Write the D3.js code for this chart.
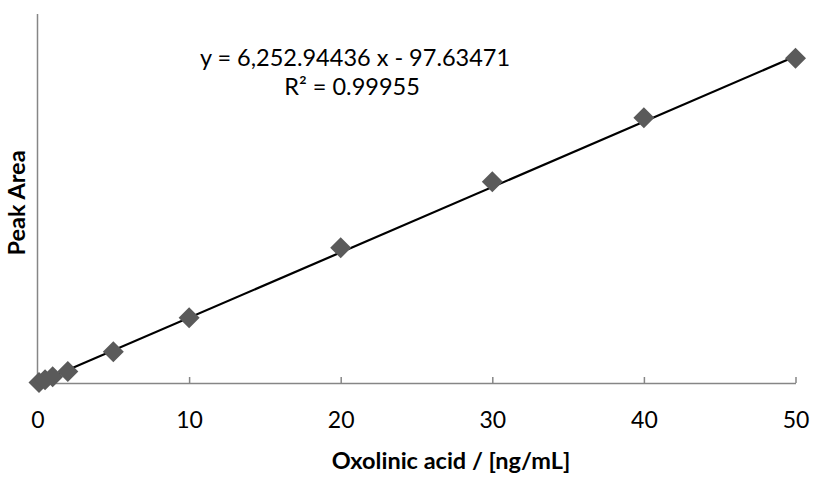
<!DOCTYPE html>
<html>
<head>
  <meta charset="utf-8">
  <title>Oxolinic acid calibration</title>
  <script src="https://d3js.org/d3.v7.min.js"></script>
  <style>
    body { margin: 0; background: #fff; }
    text { font-family: Lato, "Open Sans", sans-serif; fill: #000; }
  </style>
</head>
<body>
  <svg width="814" height="480"></svg>
<script>

// calibration points
const conc = [0.1, 0.5, 1, 2, 5, 10, 20, 30, 40, 50];
const area = [500, 3000, 6000, 11000, 29900, 62500, 129400, 192600, 253800, 310600];

const xTicks = [0, 10, 20, 30, 40, 50];

// trend line from the fitted equation
const slope = 6252.94436;
const intercept = -97.63471;
const rSquared = '0.99955';

const svg = d3.select('svg');

const x = d3.scaleLinear().domain([0, 50]).range([37.5, 795.5]);
const y = d3.scaleLinear().domain([0, 353000]).range([383, 14]);

const axisColor = '#868686';

// y axis (no labels)
svg.append('line')
  .attr('x1', x(0)).attr('x2', x(0))
  .attr('y1', y.range()[1]).attr('y2', y(0))
  .style('stroke', axisColor).style('stroke-width', 1.5);

// x axis with inside ticks
let xAxis = svg.append('g')
  .attr('transform', 'translate(0,' + y(0) + ')')
  .call(d3.axisBottom(x).tickValues(xTicks).tickSizeInner(-6).tickSizeOuter(0).tickPadding(29));

xAxis.select('.domain').style('stroke', axisColor).style('stroke-width', 1.5);
xAxis.selectAll('.tick line').style('stroke', axisColor).style('stroke-width', 1.5);
xAxis.selectAll('.tick text')
  .style('font-family', 'Lato, sans-serif')
  .style('font-size', '23px')
  .style('fill', '#000');

// trend line
svg.append('line')
  .attr('x1', x(0)).attr('y1', y(intercept))
  .attr('x2', x(50)).attr('y2', y(slope * 50 + intercept))
  .style('stroke', '#000').style('stroke-width', 2.2);

// diamonds
conc.forEach((c, i) => {
  svg.append('path')
    .attr('transform', 'translate(' + x(c) + ',' + y(area[i]) + ')')
    .attr('d', 'M0,-10.5L10.5,0L0,10.5L-10.5,0Z')
    .style('fill', '#5a5a5a');
});

// equation label
svg.append('text')
  .attr('x', 355).attr('y', 66)
  .attr('text-anchor', 'middle')
  .style('font-size', '23.5px')
  .text('y = ' + d3.format(',.5f')(slope) + ' x - ' + Math.abs(intercept).toFixed(5));

svg.append('text')
  .attr('x', 352).attr('y', 95)
  .attr('text-anchor', 'middle')
  .style('font-size', '23.5px')
  .text('R² = ' + rSquared);

// axis titles
svg.append('text')
  .attr('x', 451).attr('y', 469)
  .attr('text-anchor', 'middle')
  .style('font-size', '23.5px')
  .style('font-weight', 'bold')
  .text('Oxolinic acid / [ng/mL]');

svg.append('text')
  .attr('transform', 'translate(25,203) rotate(-90)')
  .attr('text-anchor', 'middle')
  .style('font-size', '23.5px')
  .style('font-weight', 'bold')
  .text('Peak Area');

</script>
</body>
</html>
